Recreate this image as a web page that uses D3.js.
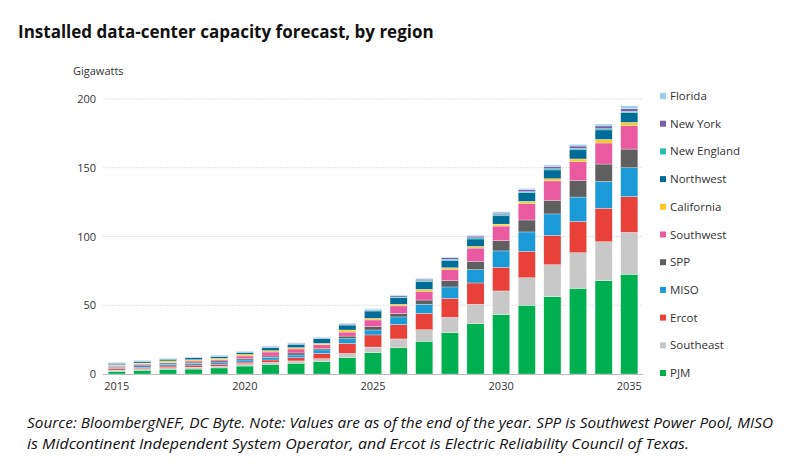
<!DOCTYPE html>
<html>
<head>
<meta charset="utf-8">
<script src="https://cdn.jsdelivr.net/npm/d3@7"></script>
<style>
  body { margin: 0; background: #fff; font-family: "Open Sans", "Noto Sans", sans-serif; }
</style>
</head>
<body>
<svg id="chart" width="803" height="472"></svg>
<script>
// chart data
var years = d3.range(2015, 2036);
var regions = ["PJM", "Southeast", "Ercot", "MISO", "SPP", "Southwest", "California",
               "Northwest", "New England", "New York", "Florida"];
var colors = ["#00b050", "#c8c8c8", "#e8413a", "#1a9ad6", "#5f5f5f", "#ea5aa0", "#fcc925",
              "#006c98", "#20c0b0", "#7b5ea7", "#9bcfee"];
var pjm        = [1.9,2.7,3.4,3.6,4.4,5.8,7.0,7.8,9.0,11.9,15.5,19,23.8,30,36.6,43.2,50,56.2,62.3,67.9,72.5];
var southeast  = [1.0,1.2,1.2,1.4,1.2,1.7,1.5,1.7,2.1,3.1,4.1,6.5,8.4,11.2,14.1,17.2,20,23.3,25.9,28.3,30.5];
var ercot      = [1.2,1.1,1.2,1.5,1.2,1.2,1.7,2.4,3.9,7.3,8.8,10.5,11.9,13.8,15.5,17.2,19.2,21.3,22.8,24.3,26];
var miso       = [0.7,1.0,1.2,1.3,1.4,1.5,1.9,1.9,2.5,3.4,3.6,5.5,6.6,8.3,9.7,11.9,14.1,15.6,17.7,19.5,21];
var spp        = [0.8,0.8,1.0,0.9,1.3,1.2,1.0,1.5,1.2,1.9,2.4,2.5,3.1,4.6,6.1,7.5,8.7,9.9,11.9,12.7,13.6];
var southwest  = [0.7,0.7,0.5,0.8,0.9,1.7,2.9,2.9,2.6,2.9,4.9,5.5,6.3,8.2,9.6,10.6,12,14.1,13.8,15.3,17];
var california = [0.5,0.5,1.0,0.9,1.0,1.2,1.0,1.0,1.0,1.5,1.2,1.2,1.5,1.2,1.2,1.4,1.6,1.6,2.0,2.6,2.4];
var northwest  = [1.0,1.2,1.2,1.5,1.4,1.5,2.2,2.4,3.4,3.6,5.3,4.8,5.5,5.4,5.4,6.0,6.3,6.4,6.6,6.9,7];
var newEngland = [0.2,0.2,0.3,0.1,0.2,0.2,0.3,0.3,0.3,0.4,0.5,0.5,0.8,0.7,0.8,0.8,0.7,0.9,1.0,0.9,1];
var newYork    = [0.3,0.3,0.4,0.2,0.4,0.3,0.6,0.6,0.4,0.6,0.5,1.0,1.1,1.1,1.3,1.2,1.4,1.7,1.8,2.0,2];
var florida    = [0.2,0.2,0.2,0.2,0.2,0.2,0.3,0.3,0.3,0.4,0.7,0.5,0.6,0.5,0.7,1.0,1.0,1.0,1.2,1.4,2];
var series = [pjm, southeast, ercot, miso, spp, southwest, california, northwest, newEngland, newYork, florida];
var yTicks = [0, 50, 100, 150, 200];
var xTicks = [2015, 2020, 2025, 2030, 2035];

var table = years.map(function(yr, i) {
  var row = { year: yr };
  regions.forEach(function(r, k) { row[r] = series[k][i]; });
  return row;
});

var svg = d3.select("#chart");
var x = d3.scaleBand().domain(years).range([103, 643]).paddingInner(0.33).paddingOuter(0.2);
var y = d3.scaleLinear().domain([0, 200]).range([374, 99]);

svg.append("text").attr("x", 18).attr("y", 38)
  .style("font-size", "17px").style("font-weight", "bold").style("fill", "#111")
  .text("Installed data-center capacity forecast, by region");

svg.append("text").attr("x", 73).attr("y", 75)
  .style("font-size", "11px").style("fill", "#333").text("Gigawatts");

// gridlines
svg.append("g").selectAll("line").data(yTicks.slice(1)).join("line")
  .attr("x1", 103).attr("x2", 643)
  .attr("y1", function(d) { return y(d); }).attr("y2", function(d) { return y(d); })
  .attr("stroke", "#e2e2e2").attr("stroke-dasharray", "2,1");

var stack = d3.stack().keys(regions)(table);
svg.append("g").selectAll("g").data(stack).join("g")
  .attr("fill", function(d, k) { return colors[k]; })
  .selectAll("rect").data(function(d) { return d; }).join("rect")
  .attr("x", function(d) { return x(d.data.year); })
  .attr("width", x.bandwidth())
  .attr("y", function(d) { return y(d[1]); })
  .attr("height", function(d) { return Math.max(0, y(d[0]) - y(d[1])); })
  .attr("stroke", "#fff").attr("stroke-width", 0.3);

svg.append("line").attr("x1", 103).attr("x2", 643).attr("y1", 374.5).attr("y2", 374.5)
  .attr("stroke", "#bdbdbd");

var yAxis = svg.append("g").attr("transform", "translate(96,0)")
  .call(d3.axisLeft(y).tickValues(yTicks).tickSize(0).tickPadding(0));
yAxis.select(".domain").remove();
yAxis.selectAll("text").style("font-size", "11px").style("fill", "#333").style("font-family", "Open Sans, sans-serif");

var xAxis = svg.append("g").attr("transform", "translate(0,378)")
  .call(d3.axisBottom(x).tickValues(xTicks).tickSize(0).tickPadding(4));
xAxis.select(".domain").remove();
xAxis.selectAll("text").style("font-size", "11px").style("fill", "#333").style("font-family", "Open Sans, sans-serif");

// legend, top item is last region
var legend = svg.append("g").selectAll("g").data(regions.slice().reverse()).join("g")
  .attr("transform", function(d, i) { return "translate(660," + (96 + i * 27.7) + ")"; });
legend.append("rect").attr("x", 0).attr("y", -3).attr("width", 6).attr("height", 6)
  .attr("fill", function(d) { return colors[regions.indexOf(d)]; });
legend.append("text").attr("x", 10).attr("y", 4)
  .style("font-size", "11.5px").style("fill", "#333").text(function(d) { return d; });

var notes = ["Source: BloombergNEF, DC Byte. Note: Values are as of the end of the year. SPP is Southwest Power Pool, MISO",
             "is Midcontinent Independent System Operator, and Ercot is Electric Reliability Council of Texas."];
var noteWidths = [746, 662];
svg.append("g").selectAll("text").data(notes).join("text")
  .attr("x", 27).attr("y", function(d, i) { return 428 + i * 21; })
  .attr("textLength", function(d, i) { return noteWidths[i]; })
  .attr("lengthAdjust", "spacingAndGlyphs")
  .style("font-size", "14px").style("font-style", "italic").style("fill", "#111")
  .text(function(d) { return d; });
</script>
</body>
</html>
